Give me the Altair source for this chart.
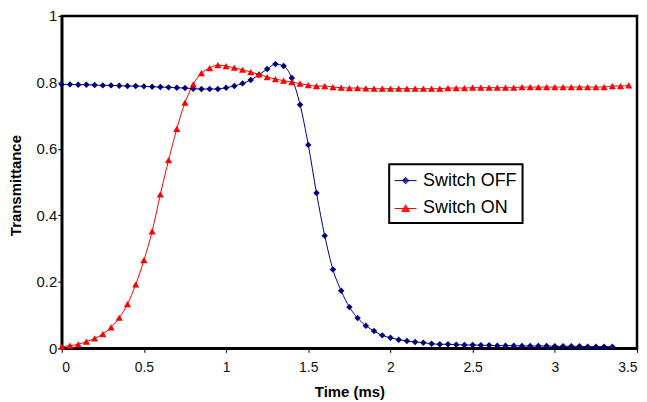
import altair as alt
import pandas as pd

time_ms = [0.00, 0.05, 0.10, 0.15, 0.20, 0.25, 0.30, 0.35, 0.40, 0.45,
           0.50, 0.55, 0.60, 0.65, 0.70, 0.75, 0.80, 0.85, 0.90, 0.95,
           1.00, 1.05, 1.10, 1.15, 1.20, 1.25, 1.30, 1.35, 1.40, 1.45,
           1.50, 1.55, 1.60, 1.65, 1.70, 1.75, 1.80, 1.85, 1.90, 1.95,
           2.00, 2.05, 2.10, 2.15, 2.20, 2.25, 2.30, 2.35, 2.40, 2.45,
           2.50, 2.55, 2.60, 2.65, 2.70, 2.75, 2.80, 2.85, 2.90, 2.95,
           3.00, 3.05, 3.10, 3.15, 3.20, 3.25, 3.30, 3.35, 3.40, 3.45]

switch_off = [0.794, 0.794, 0.793, 0.793, 0.792, 0.791, 0.791, 0.790, 0.789, 0.789,
              0.788, 0.787, 0.786, 0.785, 0.784, 0.783, 0.781, 0.780, 0.780, 0.780,
              0.784, 0.789, 0.797, 0.807, 0.823, 0.840, 0.855, 0.849, 0.813, 0.733,
              0.612, 0.467, 0.339, 0.237, 0.173, 0.124, 0.091, 0.068, 0.052, 0.039,
              0.032, 0.026, 0.022, 0.019, 0.017, 0.014, 0.012, 0.012, 0.011, 0.010,
              0.010, 0.009, 0.009, 0.008, 0.008, 0.008, 0.007, 0.007, 0.007, 0.007,
              0.006, 0.006, 0.006, 0.006, 0.005, 0.005, 0.005, 0.005]

switch_on = [0.005, 0.008, 0.012, 0.020, 0.030, 0.043, 0.063, 0.092, 0.133, 0.192,
             0.265, 0.352, 0.463, 0.566, 0.660, 0.739, 0.794, 0.828, 0.843, 0.852,
             0.849, 0.844, 0.838, 0.831, 0.824, 0.816, 0.810, 0.805, 0.801, 0.796,
             0.792, 0.789, 0.789, 0.786, 0.784, 0.783, 0.783, 0.782, 0.781, 0.781,
             0.781, 0.781, 0.781, 0.781, 0.781, 0.781, 0.781, 0.783, 0.783, 0.783,
             0.784, 0.784, 0.784, 0.784, 0.784, 0.784, 0.786, 0.786, 0.786, 0.786,
             0.786, 0.786, 0.786, 0.786, 0.786, 0.786, 0.786, 0.789, 0.789, 0.791]

series_names = ["Switch OFF", "Switch ON"]
series_colors = ["#000080", "#FF0000"]
marker_shapes = ["diamond", "triangle-up"]
marker_sizes = [42, 52]
# legend symbols: a short line with the series marker on it
legend_shapes = [
    "M-1,0H1M0,-0.3L0.3,0L0,0.3L-0.3,0ZM0,-0.2L0.2,0L0,0.2L-0.2,0ZM0,-0.1L0.1,0L0,0.1L-0.1,0Z",
    "M-1,0H1M0,-0.33L0.36,0.27L-0.36,0.27ZM0,-0.19L0.24,0.2L-0.24,0.2ZM0,-0.06L0.12,0.14L-0.12,0.14Z",
]
x_ticks = [0, 0.5, 1, 1.5, 2, 2.5, 3, 3.5]
y_ticks = [0, 0.2, 0.4, 0.6, 0.8, 1]

rows = []
for t, v in zip(time_ms[:len(switch_off)], switch_off):
    rows.append({"t": t, "v": v, "series": series_names[0]})
for t, v in zip(time_ms[:len(switch_on)], switch_on):
    rows.append({"t": t, "v": v, "series": series_names[1]})
df = pd.DataFrame(rows)

FONT = "Liberation Sans"

x_enc = alt.X("t:Q", scale=alt.Scale(domain=[0, 3.5], nice=False),
              axis=alt.Axis(values=x_ticks, format="~g", title="Time (ms)",
                            titleBaseline="alphabetic", titleY=48,
                            labelFontSize=14, labelPadding=8))
y_enc = alt.Y("v:Q", scale=alt.Scale(domain=[0, 1], nice=False),
              axis=alt.Axis(values=y_ticks, format="~g", title="Transmittance",
                            titleX=-38, titleY=170,
                            labelFontSize=15, labelPadding=1))

base = alt.Chart(df)

lines = base.mark_line(interpolate="monotone", strokeWidth=1).encode(
    x=x_enc, y=y_enc,
    color=alt.Color("series:N", scale=alt.Scale(domain=series_names, range=series_colors), legend=None),
)

points = base.mark_point(filled=True, opacity=1).encode(
    x=x_enc, y=y_enc,
    color=alt.Color("series:N", scale=alt.Scale(domain=series_names, range=series_colors), legend=None),
    shape=alt.Shape("series:N", scale=alt.Scale(domain=series_names, range=marker_shapes), legend=None),
    size=alt.Size("series:N", scale=alt.Scale(domain=series_names, range=marker_sizes), legend=None),
)

leg = alt.Legend(title=None, orient="none", legendX=329, legendY=149)
legend_layer = base.transform_filter("false").mark_point(filled=False, opacity=1, strokeWidth=1).encode(
    x=x_enc, y=y_enc,
    color=alt.Color("series:N", scale=alt.Scale(domain=series_names, range=series_colors), legend=leg),
    shape=alt.Shape("series:N", scale=alt.Scale(domain=series_names, range=legend_shapes), legend=leg),
)

chart = alt.layer(lines, points, legend_layer).resolve_scale(
    color="independent", shape="independent", size="independent"
).properties(
    width=578, height=334,
    autosize=alt.AutoSizeParams(type="none"),
    padding={"left": 54, "top": 7, "right": 2, "bottom": 54},
).configure_view(
    stroke="#000000", strokeWidth=2.5
).configure_axis(
    grid=False,
    domainColor="#000000", domainWidth=2.5,
    tickColor="#000000", tickSize=4, tickWidth=1,
    labelFont=FONT, labelColor="#111111",
    titleFont=FONT, titleFontSize=15, titleFontWeight="bold", titleColor="#000000",
).configure_legend(
    labelFont=FONT, labelFontSize=18, labelColor="#000000",
    symbolSize=484, symbolStrokeWidth=1,
    strokeColor="#000000", strokeWidth=2, fillColor="#FFFFFF",
    padding=5, rowPadding=7, labelOffset=6,
)

chart.save("out.html", embed_options={"renderer": "svg", "actions": False})
